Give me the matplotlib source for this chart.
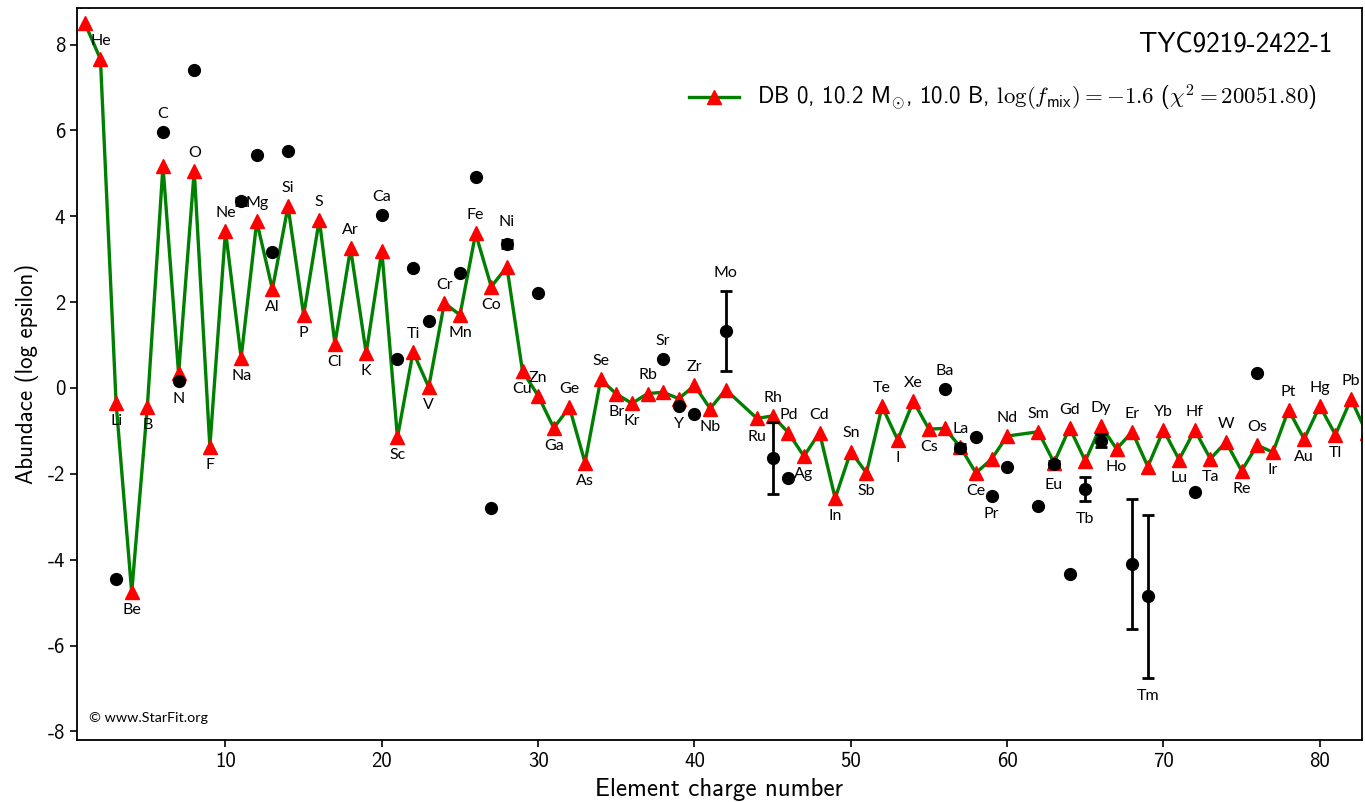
import matplotlib
matplotlib.use('Agg')
import matplotlib.pyplot as plt

plt.rcParams['font.family'] = ['cmss10', 'DejaVu Sans']
plt.rcParams['mathtext.fontset'] = 'cm'
plt.rcParams['axes.unicode_minus'] = False

# model (red triangles on the green line)
model_z = [1, 2, 3, 4, 5, 6, 7, 8, 9, 10, 11, 12, 13, 14, 15, 16, 17, 18, 19, 20,
           21, 22, 23, 24, 25, 26, 27, 28, 29, 30, 31, 32, 33, 34, 35, 36, 37, 38, 39, 40,
           41, 42, 44, 45, 46, 47, 48, 49, 50, 51, 52, 53, 54, 55, 56, 57, 58, 59, 60,
           62, 63, 64, 65, 66, 67, 68, 69, 70, 71, 72, 73, 74, 75, 76, 77, 78, 79, 80,
           81, 82, 83]
model_el = ['H', 'He', 'Li', 'Be', 'B', 'C', 'N', 'O', 'F', 'Ne', 'Na', 'Mg', 'Al', 'Si',
            'P', 'S', 'Cl', 'Ar', 'K', 'Ca', 'Sc', 'Ti', 'V', 'Cr', 'Mn', 'Fe', 'Co', 'Ni',
            'Cu', 'Zn', 'Ga', 'Ge', 'As', 'Se', 'Br', 'Kr', 'Rb', 'Sr', 'Y', 'Zr', 'Nb', 'Mo',
            'Ru', 'Rh', 'Pd', 'Ag', 'Cd', 'In', 'Sn', 'Sb', 'Te', 'I', 'Xe', 'Cs', 'Ba', 'La',
            'Ce', 'Pr', 'Nd', 'Sm', 'Eu', 'Gd', 'Tb', 'Dy', 'Ho', 'Er', 'Tm', 'Yb', 'Lu', 'Hf',
            'Ta', 'W', 'Re', 'Os', 'Ir', 'Pt', 'Au', 'Hg', 'Tl', 'Pb', 'Bi']
model_val = [8.50, 7.66, -0.34, -4.76, -0.44, 5.17, 0.34, 5.06, -1.37, 3.66, 0.70, 3.88, 2.30, 4.23,
             1.70, 3.92, 1.03, 3.25, 0.81, 3.19, -1.15, 0.84, 0.02, 1.98, 1.70, 3.60, 2.36, 2.82,
             0.39, -0.18, -0.93, -0.45, -1.74, 0.20, -0.14, -0.36, -0.13, -0.10, -0.25, 0.06, -0.48, -0.04,
             -0.71, -0.65, -1.04, -1.59, -1.04, -2.57, -1.48, -1.98, -0.43, -1.21, -0.31, -0.96, -0.94, -1.37,
             -1.98, -1.66, -1.12, -1.02, -1.74, -0.93, -1.70, -0.88, -1.42, -1.02, -1.83, -0.98, -1.67, -0.98,
             -1.65, -1.26, -1.93, -1.33, -1.50, -0.51, -1.19, -0.42, -1.09, -0.26, -1.05]

# observed abundances (black points)
obs_z = [3, 6, 7, 8, 11, 12, 13, 14, 20, 21, 22, 23, 25, 26, 27, 28, 30, 38, 39, 40, 42,
         45, 46, 56, 57, 58, 59, 60, 62, 63, 64, 65, 66, 68, 69, 72, 76]
obs_val = [-4.44, 5.96, 0.16, 7.40, 4.35, 5.42, 3.17, 5.53, 4.02, 0.67, 2.79, 1.56, 2.67, 4.91,
           -2.79, 3.35, 2.21, 0.67, -0.42, -0.60, 1.33, -1.63, -2.09, -0.03, -1.39, -1.14, -2.51,
           -1.83, -2.74, -1.77, -4.33, -2.35, -1.23, -4.10, -4.85, -2.42, 0.34]
obs_err = [0, 0, 0, 0, 0.08, 0, 0, 0, 0, 0, 0, 0, 0, 0, 0, 0.10, 0, 0, 0, 0, 0.93,
           0.83, 0, 0, 0.08, 0, 0, 0, 0, 0.06, 0, 0.28, 0.15, 1.52, 1.90, 0, 0]

star = 'TYC9219-2422-1'
legend_label = (r'DB 0, 10.2 M$_{\odot}$, 10.0 B, $\log(f_\mathsf{mix}) = -1.6$ '
                r'($\chi^2 = 20051.80$)')

fig = plt.figure(figsize=(13.65, 8.02), dpi=100)
ax = fig.add_axes([0.0564, 0.0773, 0.9414, 0.9127])

ax.plot(model_z, model_val, color='green', lw=2.4, marker='^', ms=10,
        mfc='red', mec='red', label=legend_label, zorder=2)
ax.errorbar(obs_z, obs_val, yerr=obs_err, fmt='o', color='black', ms=8.5,
            elinewidth=2, capsize=4.5, capthick=2, zorder=3)

xmax = 82.7
# element labels: above local maxima, below local minima of the model curve
obs = {z: (v, e) for z, v, e in zip(obs_z, obs_val, obs_err)}
for i, (z, el, v) in enumerate(zip(model_z, model_el, model_val)):
    if z > xmax:
        continue
    if 0 < i < len(model_val) - 1:
        up = v >= 0.5 * (model_val[i - 1] + model_val[i + 1])
    else:
        up = True
    y = v
    if z in obs:
        ov, oe = obs[z]
        if up and ov > v and ov - oe - v < 1.2:
            y = ov + oe
        if not up and ov < v and v - (ov + oe) < 1.2:
            y = ov - oe
    ax.annotate(el, (z, y), xytext=(0, 13 if up else -13), textcoords='offset points',
                ha='center', va='center', fontsize=11.5, family=['Lato', 'DejaVu Sans'],
                clip_on=True, annotation_clip=False)

ax.set_xlim(0.5, xmax)
ax.set_ylim(-8.2, 8.85)
ax.set_xticks(range(10, 81, 10))
ax.set_yticks(range(-8, 9, 2))
ax.tick_params(labelsize=15, width=1.2, length=5)
for s in ax.spines.values():
    s.set_linewidth(1.3)
ax.set_xlabel('Element charge number', fontsize=18, labelpad=5)
ax.set_ylabel('Abundace (log epsilon)', fontsize=16.5, labelpad=6)

ax.legend(loc='center right', bbox_to_anchor=(0.965, 0.877), frameon=False,
          fontsize=16.5, borderaxespad=0, borderpad=0, handlelength=2.2)
ax.text(0.977, 0.949, star, transform=ax.transAxes, ha='right', va='center', fontsize=19.5)
ax.text(0.009, 0.03, '\u00a9 www.StarFit.org', transform=ax.transAxes, ha='left',
        va='center', fontsize=10.3, family=['Lato', 'DejaVu Sans'])

fig.savefig('out.png', dpi=100)
